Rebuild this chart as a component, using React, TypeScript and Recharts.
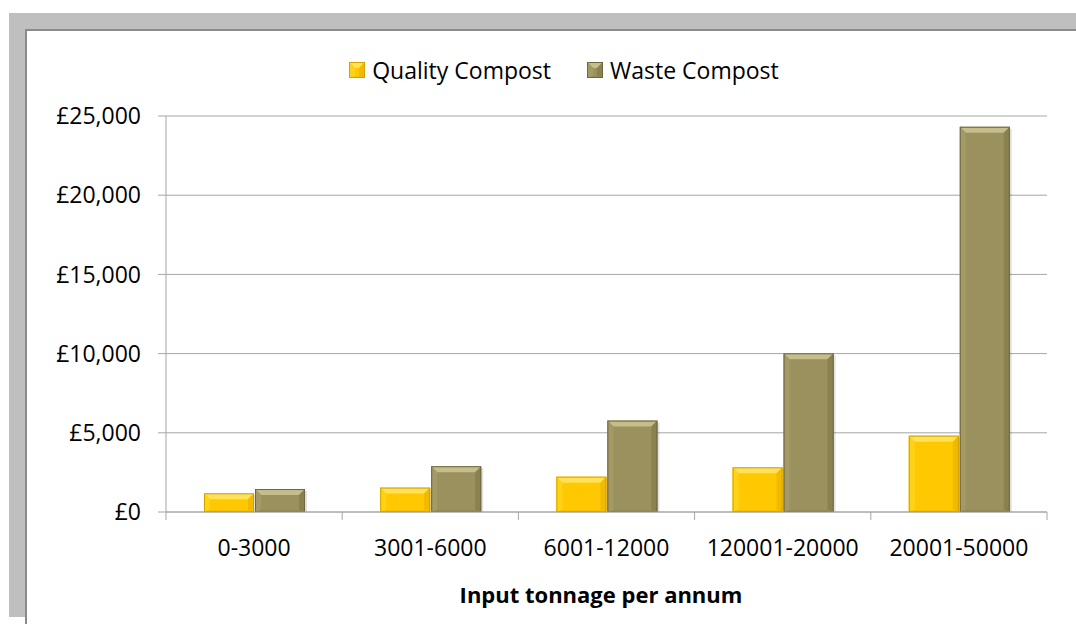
import React from 'react';
import { BarChart, Bar, XAxis, YAxis, CartesianGrid } from 'recharts';

const categories = ['0-3000', '3001-6000', '6001-12000', '120001-20000', '20001-50000'];
const qualityCompost = [1180, 1540, 2230, 2820, 4820];
const wasteCompost = [1450, 2890, 5770, 10020, 24320];
const yTicks = [0, 5000, 10000, 15000, 20000, 25000];

const seriesNames = ['Quality Compost', 'Waste Compost'];

const data = categories.map((c, i) => ({
  name: c,
  quality: qualityCompost[i],
  waste: wasteCompost[i],
}));

const FONT = '"Open Sans", sans-serif';
const AXIS_GRAY = '#A6A6A6';

const palettes = {
  quality: { main: '#FFC800', top: '#FFE25A', left: '#FFD21A', right: '#F0BA00', bottom: '#F5C000', edge: '#D4A200' },
  waste: { main: '#9A915E', top: '#C5BD8A', left: '#A39A66', right: '#8A8151', bottom: '#928957', edge: '#6E6740' },
};

function bevelShape(p: typeof palettes.quality) {
  return (props: any) => {
    const { x, y, width: w, height: h } = props;
    if (!h || h <= 0) return <g />;
    const b = Math.min(6, h / 2, w / 2);
    const bb = Math.min(2, h / 4);
    return (
      <g>
        <rect x={x + 2} y={y + 2} width={w} height={h - 2} fill="rgba(0,0,0,0.12)" />
        <rect x={x} y={y} width={w} height={h} fill={p.main} />
        <polygon points={`${x},${y} ${x + w},${y} ${x + w - b},${y + b} ${x + b},${y + b}`} fill={p.top} />
        <polygon points={`${x},${y} ${x + b},${y + b} ${x + b},${y + h - bb} ${x},${y + h}`} fill={p.left} />
        <polygon points={`${x + w},${y} ${x + w - b},${y + b} ${x + w - b},${y + h - bb} ${x + w},${y + h}`} fill={p.right} />
        <polygon points={`${x},${y + h} ${x + b},${y + h - bb} ${x + w - b},${y + h - bb} ${x + w},${y + h}`} fill={p.bottom} />
        <rect x={x + 0.5} y={y + 0.5} width={w - 1} height={h - 1} fill="none" stroke={p.edge} strokeWidth={1} />
      </g>
    );
  };
}

const XTick = (props: any) => {
  const { x, payload, index } = props;
  const band = (1047 - 166) / categories.length;
  const left = x - band / 2;
  const axisY = 512;
  return (
    <g>
      <line x1={left} y1={axisY} x2={left} y2={axisY + 8} stroke={AXIS_GRAY} />
      {index === categories.length - 1 && (
        <line x1={left + band} y1={axisY} x2={left + band} y2={axisY + 8} stroke={AXIS_GRAY} />
      )}
      <text x={x} y={axisY + 44} textAnchor="middle" fontFamily={FONT} fontSize={23} fill="#000">
        {payload.value}
      </text>
    </g>
  );
};

const fmt = (v: number) => '£' + v.toLocaleString('en-GB');

export default function App() {
  return (
    <div style={{ position: 'absolute', left: 0, top: 0, width: 1076, height: 624, background: '#fff', overflow: 'hidden' }}>
      <div style={{ position: 'absolute', left: 9, top: 13, width: 1067, height: 604, background: '#BFBFBF' }} />
      <div
        style={{
          position: 'absolute',
          left: 25,
          top: 29,
          width: 1051,
          height: 595,
          background: '#fff',
          borderLeft: '2px solid #8A8A8A',
          borderTop: '2px solid #8A8A8A',
        }}
      />
      <div
        style={{
          position: 'absolute',
          top: 56,
          left: 0,
          width: 1076,
          display: 'flex',
          justifyContent: 'center',
          fontFamily: FONT,
          fontSize: 23,
          color: '#000',
          paddingLeft: 52,
          boxSizing: 'border-box',
        }}
      >
        {seriesNames.map((n, i) => {
          const p = i === 0 ? palettes.quality : palettes.waste;
          return (
            <div key={n} style={{ display: 'flex', alignItems: 'center', marginRight: i === 0 ? 36 : 0 }}>
              <svg width={16} height={16} style={{ marginRight: 7 }}>
                {bevelShape(p)({ x: 0, y: 0, width: 16, height: 16 })}
              </svg>
              <span style={{ lineHeight: '28px' }}>{n}</span>
            </div>
          );
        })}
      </div>
      <div style={{ position: 'absolute', left: 0, top: 0 }}>
        <BarChart
          width={1076}
          height={624}
          data={data}
          margin={{ top: 116, right: 29, bottom: 62, left: 66 }}
          barSize={50}
          barGap={1}
        >
          <CartesianGrid vertical={false} stroke={AXIS_GRAY} strokeWidth={1} />
          <XAxis
            dataKey="name"
            height={50}
            tick={<XTick />}
            tickLine={false}
            axisLine={{ stroke: AXIS_GRAY }}
            interval={0}
          />
          <YAxis
            width={100}
            domain={[0, 25000]}
            ticks={yTicks}
            tickFormatter={fmt}
            tickSize={8}
            tickMargin={17}
            tickLine={{ stroke: AXIS_GRAY }}
            axisLine={{ stroke: AXIS_GRAY }}
            tick={{ fontFamily: FONT, fontSize: 23, fill: '#000' }}
          />
          <Bar dataKey="quality" name={seriesNames[0]} shape={bevelShape(palettes.quality)} isAnimationActive={false} />
          <Bar dataKey="waste" name={seriesNames[1]} shape={bevelShape(palettes.waste)} isAnimationActive={false} />
          <text x={601} y={603} textAnchor="middle" fontFamily={FONT} fontSize={22} fontWeight="bold" fill="#000">
            Input tonnage per annum
          </text>
        </BarChart>
      </div>
    </div>
  );
}
